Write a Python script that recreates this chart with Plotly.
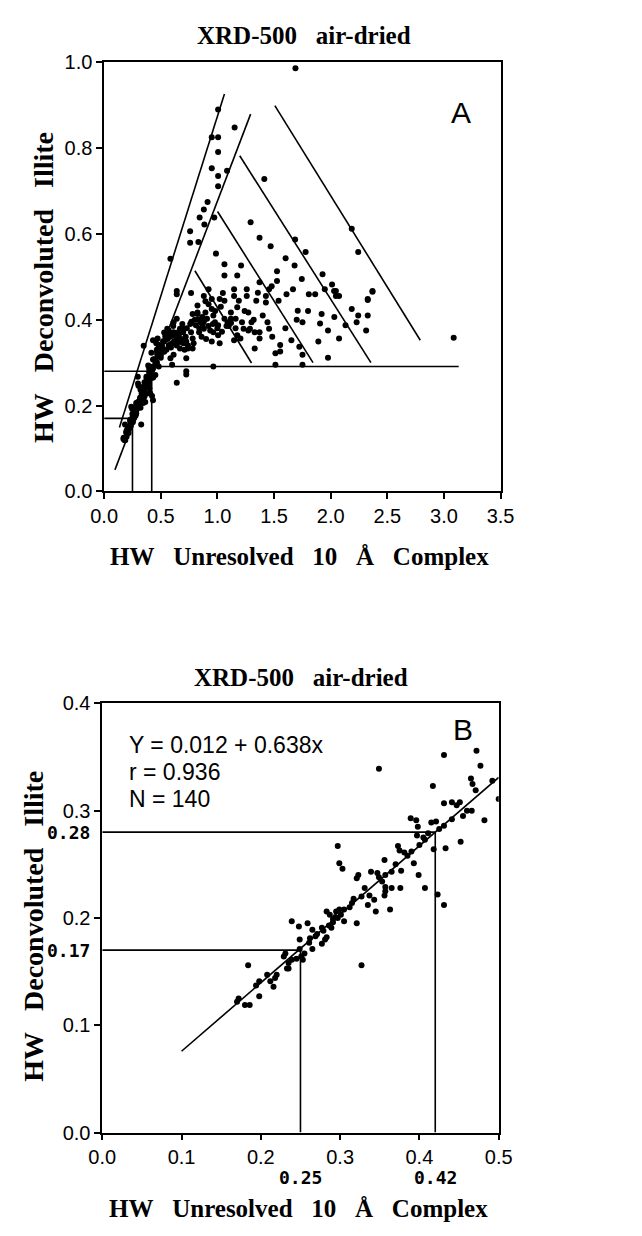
import plotly.graph_objects as go

# panel B: HW unresolved 10 A complex vs HW deconvoluted illite (zoomed cluster)
b_x = [0.349, 0.431, 0.472, 0.477, 0.492, 0.500, 0.417, 0.465, 0.467, 0.471, 0.431, 0.441,
       0.447, 0.451, 0.466, 0.482, 0.441, 0.431, 0.421, 0.415, 0.389, 0.396, 0.398, 0.411,
       0.407, 0.397, 0.418, 0.433, 0.452, 0.297, 0.299, 0.303, 0.373, 0.375, 0.381, 0.356,
       0.393, 0.377, 0.365, 0.357, 0.349, 0.347, 0.339, 0.399, 0.323, 0.321, 0.353, 0.357,
       0.357, 0.365, 0.376, 0.407, 0.423, 0.331, 0.317, 0.337,
       0.345, 0.363, 0.431, 0.335, 0.343, 0.327, 0.356, 0.283, 0.287, 0.291, 0.295, 0.299,
       0.305, 0.297, 0.291, 0.289, 0.305, 0.321, 0.239, 0.259, 0.248, 0.265, 0.271, 0.277,
       0.279, 0.281, 0.283, 0.277, 0.249, 0.261, 0.265, 0.255, 0.249, 0.251, 0.253, 0.245,
       0.239, 0.235, 0.231, 0.229, 0.233, 0.235, 0.327, 0.184, 0.220, 0.218, 0.212, 0.216,
       0.208, 0.198, 0.194, 0.198, 0.172, 0.170, 0.180, 0.186,
       0.262, 0.269, 0.286, 0.294, 0.301, 0.312, 0.315, 0.370, 0.385, 0.390, 0.400, 0.405,
       0.425, 0.455, 0.460]
b_y = [0.339, 0.352, 0.356, 0.342, 0.328, 0.311, 0.323, 0.330, 0.325, 0.319, 0.307, 0.308,
       0.305, 0.308, 0.300, 0.291, 0.292, 0.286, 0.290, 0.289, 0.293, 0.291, 0.285, 0.279,
       0.273, 0.277, 0.264, 0.265, 0.271, 0.267, 0.251, 0.246, 0.267, 0.263, 0.261, 0.254,
       0.251, 0.244, 0.243, 0.240, 0.238, 0.242, 0.243, 0.240, 0.240, 0.237, 0.234, 0.229,
       0.225, 0.228, 0.228, 0.228, 0.222, 0.228, 0.218, 0.221,
       0.206, 0.208, 0.212, 0.212, 0.217, 0.220, 0.221, 0.206, 0.203, 0.199, 0.206, 0.208,
       0.208, 0.200, 0.196, 0.191, 0.197, 0.195, 0.197, 0.195, 0.192, 0.189, 0.185, 0.191,
       0.188, 0.180, 0.182, 0.176, 0.180, 0.177, 0.171, 0.167, 0.171, 0.164, 0.161, 0.162,
       0.161, 0.158, 0.167, 0.164, 0.153, 0.153, 0.156, 0.156, 0.147, 0.144, 0.141, 0.136,
       0.147, 0.141, 0.137, 0.127, 0.125, 0.122, 0.119, 0.119,
       0.181, 0.183, 0.193, 0.201, 0.203, 0.210, 0.214, 0.250, 0.258, 0.262, 0.268, 0.275,
       0.283, 0.295, 0.300]

# panel A: the same samples plus the ones outside panel B's window
a_extra_x = [1.689, 1.006, 1.152, 0.950, 1.006, 1.006, 0.950, 1.006, 1.085, 1.006, 1.414, 0.913,
             0.880, 0.843, 0.885, 0.972, 0.759, 0.832, 0.759, 0.987, 1.293, 1.372, 1.470, 1.686,
             1.779, 2.186, 2.243, 0.585, 1.062, 1.209, 1.602, 1.681, 1.526, 1.526, 1.479, 1.062,
             1.175, 1.372, 1.745, 1.928, 2.012, 2.046, 2.074, 2.369, 2.327,
             0.641, 0.641, 0.767, 0.922, 0.880, 0.894, 0.922, 1.048, 1.062, 1.020, 1.147, 1.147,
             1.189, 1.175, 1.259, 1.259, 1.357, 1.343, 1.428, 1.428, 1.456, 1.540, 1.610, 1.667,
             1.709, 1.751, 1.653, 1.723, 1.751, 1.751, 1.554, 1.512, 1.512, 1.807, 1.863, 1.948,
             2.030, 2.046, 2.186, 2.243, 2.229, 2.131, 2.032, 1.920, 1.906, 1.891, 1.976, 2.074,
             1.976, 2.313, 2.327, 2.327, 2.369, 3.086,
             1.273, 1.301, 1.287, 1.329, 1.372, 1.372, 1.456, 1.484, 1.442, 1.329, 1.273, 1.554,
             1.231, 1.203, 1.175, 1.147, 1.217, 1.161, 1.119, 1.119, 1.090, 1.062,
             0.950, 0.950, 0.964, 0.978, 1.006, 0.964, 1.006, 0.950, 1.020, 0.894, 0.908, 0.866,
             0.852, 0.824, 0.824, 0.824, 0.781, 0.810, 0.767, 0.781, 0.781, 0.739, 0.725, 0.838,
             0.880, 0.936,
             0.613, 0.641, 0.669, 0.613, 0.557, 0.543, 0.529, 0.585, 0.641, 0.697, 0.725, 0.669,
             0.613, 0.585, 0.571, 0.515, 0.501, 0.600, 0.641, 0.725, 0.725, 0.964,
             0.52, 0.54, 0.56, 0.58, 0.60, 0.62, 0.64, 0.66, 0.68, 0.70, 0.72, 0.74, 0.55, 0.59,
             0.63, 0.67, 0.71, 0.76, 0.80, 0.84, 0.88, 0.92, 0.96, 1.00, 1.04, 1.08, 1.12, 1.16,
             1.24, 1.32, 1.40, 1.60, 1.70, 1.80,
             0.51, 0.53, 0.57, 0.61, 0.65, 0.69, 0.73, 0.77, 0.53, 0.57, 0.61, 0.65, 0.69, 0.86,
             0.90, 0.98, 1.03, 1.10, 0.79, 0.83, 0.87, 0.47, 0.49, 0.46]
a_extra_y = [0.986, 0.890, 0.848, 0.825, 0.825, 0.791, 0.753, 0.735, 0.747, 0.711, 0.728, 0.674,
             0.657, 0.638, 0.622, 0.638, 0.606, 0.581, 0.579, 0.554, 0.627, 0.591, 0.571, 0.587,
             0.558, 0.612, 0.558, 0.542, 0.529, 0.526, 0.543, 0.526, 0.513, 0.490, 0.478, 0.503,
             0.503, 0.487, 0.495, 0.506, 0.482, 0.467, 0.455, 0.465, 0.446,
             0.467, 0.459, 0.462, 0.471, 0.455, 0.443, 0.436, 0.462, 0.444, 0.448, 0.471, 0.455,
             0.444, 0.429, 0.471, 0.455, 0.463, 0.444, 0.455, 0.440, 0.471, 0.444, 0.459, 0.471,
             0.421, 0.394, 0.352, 0.337, 0.318, 0.295, 0.341, 0.322, 0.295, 0.459, 0.459, 0.471,
             0.467, 0.455, 0.425, 0.410, 0.394, 0.387, 0.406, 0.413, 0.391, 0.349, 0.375, 0.356,
             0.311, 0.375, 0.410, 0.448, 0.467, 0.358,
             0.417, 0.394, 0.379, 0.371, 0.371, 0.356, 0.379, 0.360, 0.394, 0.333, 0.375, 0.326,
             0.379, 0.356, 0.364, 0.352, 0.394, 0.402, 0.402, 0.417, 0.394, 0.402,
             0.448, 0.425, 0.410, 0.394, 0.387, 0.371, 0.364, 0.349, 0.345, 0.417, 0.402, 0.406,
             0.394, 0.413, 0.433, 0.417, 0.413, 0.387, 0.371, 0.356, 0.333, 0.333, 0.310, 0.371,
             0.379, 0.375,
             0.394, 0.402, 0.379, 0.371, 0.379, 0.364, 0.349, 0.360, 0.356, 0.371, 0.349, 0.333,
             0.318, 0.310, 0.341, 0.333, 0.318, 0.295, 0.253, 0.280, 0.272, 0.291,
             0.350, 0.360, 0.355, 0.365, 0.345, 0.350, 0.340, 0.365, 0.355, 0.345, 0.360, 0.340,
             0.330, 0.335, 0.362, 0.348, 0.330, 0.390, 0.400, 0.380, 0.395, 0.385, 0.390, 0.380,
             0.372, 0.385, 0.392, 0.380, 0.420, 0.400, 0.410, 0.380, 0.400, 0.420,
             0.340, 0.370, 0.375, 0.385, 0.370, 0.390, 0.380, 0.395, 0.325, 0.338, 0.345, 0.352,
             0.380, 0.360, 0.355, 0.420, 0.430, 0.385, 0.345, 0.400, 0.390, 0.320, 0.335, 0.345]

# guide lines, panel A: [x0, x1], [y0, y1]
a_guides = [
    ([0.135, 1.062], [0.149, 0.926]),
    ([0.095, 1.293], [0.050, 0.879]),
    ([1.507, 2.791], [0.899, 0.352]),
    ([1.197, 2.355], [0.782, 0.300]),
    ([1.001, 1.844], [0.652, 0.300]),
    ([0.801, 1.301], [0.514, 0.299]),
    ([0.42, 3.13], [0.291, 0.291]),
    ([0.0, 0.42], [0.28, 0.28]),
    ([0.42, 0.42], [0.0, 0.28]),
    ([0.0, 0.25], [0.17, 0.17]),
    ([0.25, 0.25], [0.0, 0.17]),
]
# guide lines, panel B
b_guides = [
    ([0.0, 0.42], [0.28, 0.28]),
    ([0.42, 0.42], [0.0, 0.28]),
    ([0.0, 0.25], [0.17, 0.17]),
    ([0.25, 0.25], [0.0, 0.17]),
]
fit_a, fit_b = 0.012, 0.638
fit_x = [0.1, 0.5]

a_ticks_x = [0, 0.5, 1.0, 1.5, 2.0, 2.5, 3.0, 3.5]
a_ticks_y = [0, 0.2, 0.4, 0.6, 0.8, 1.0]
b_ticks_x = [0, 0.1, 0.2, 0.3, 0.4, 0.5]
b_ticks_y = [0, 0.1, 0.2, 0.3, 0.4]

# page is 642x1236, browser body margin puts the figure at (8, 8)
OFF = 8
W, H = 642 - 2 * OFF, 1236 - 2 * OFF
SERIF = "Liberation Serif"
SANS = "Liberation Sans"
SP = "\u00a0\u00a0 "

fig = go.Figure()

a_x = b_x + a_extra_x
a_y = b_y + a_extra_y
line = dict(color="black", width=1.6)
mk = dict(color="black", size=6)

fig.add_trace(go.Scatter(x=a_x, y=a_y, mode="markers", marker=mk, xaxis="x", yaxis="y"))
for gx, gy in a_guides:
    fig.add_trace(go.Scatter(x=gx, y=gy, mode="lines", line=line, xaxis="x", yaxis="y"))

fig.add_trace(go.Scatter(x=b_x, y=b_y, mode="markers", marker=mk, xaxis="x2", yaxis="y2"))
for gx, gy in b_guides:
    fig.add_trace(go.Scatter(x=gx, y=gy, mode="lines", line=line, xaxis="x2", yaxis="y2"))
fig.add_trace(go.Scatter(x=fit_x, y=[fit_a + fit_b * v for v in fit_x], mode="lines",
                         line=line, xaxis="x2", yaxis="y2"))


def px_x(p):
    return (p - OFF) / W


def px_y(p):
    return 1 - (p - OFF) / H


def axis(rng, ticks, dom):
    return dict(range=rng, domain=dom, tickvals=ticks, ticktext=["%.1f" % t for t in ticks],
                showline=True, mirror=True, linecolor="black", linewidth=1.6,
                ticks="outside", ticklen=6, tickwidth=1.5, tickcolor="black",
                showgrid=False, zeroline=False, fixedrange=True,
                tickfont=dict(family=SANS, size=20, color="black"))


fig.update_layout(
    width=W, height=H, margin=dict(l=0, r=0, t=0, b=0),
    paper_bgcolor="white", plot_bgcolor="white", showlegend=False,
    xaxis=axis([0, 3.5], a_ticks_x, [px_x(94), px_x(509)]) | dict(anchor="y"),
    yaxis=axis([0, 1.0], a_ticks_y, [px_y(489), px_y(52)]) | dict(anchor="x"),
    xaxis2=axis([0, 0.5], b_ticks_x, [px_x(92), px_x(507)]) | dict(anchor="y2"),
    yaxis2=axis([0, 0.4], b_ticks_y, [px_y(1142), px_y(705)]) | dict(anchor="x2"),
)

title_font = dict(family=SERIF, size=25, color="black")
ytitle_font = dict(family=SERIF, size=28, color="black")
main_title = "<b>XRD-500" + SP + "air-dried</b>"
x_title = "<b>" + SP.join(["HW", "Unresolved", "10", "Å", "Complex"]) + "</b>"
y_title = "<b>" + SP.join(["HW", "Deconvoluted", "Illite"]) + "</b>"
notes = [
    (main_title, 303, 25, 0, title_font),
    (x_title, 299, 555, 0, title_font),
    (y_title, 30, 282, -90, ytitle_font),
    (main_title, 300, 679, 0, title_font),
    (x_title, 297, 1219, 0, title_font),
    (y_title, 20, 932, -90, ytitle_font),
    ("A", 468, 103, 0, dict(family=SANS, size=30, color="black")),
    ("B", 470, 732, 0, dict(family=SANS, size=30, color="black")),
]
for text, x, y, ang, f in notes:
    fig.add_annotation(text=text, x=px_x(x), y=px_y(y), xref="paper", yref="paper",
                       showarrow=False, textangle=ang, font=f, xanchor="center", yanchor="middle")

eq_font = dict(family=SANS, size=23, color="black")
for text, y in [("Y = 0.012 + 0.638x", 747), ("r = 0.936", 775), ("N = 140", 802)]:
    fig.add_annotation(text=text, x=px_x(118), y=px_y(y), xref="paper", yref="paper",
                       showarrow=False, font=eq_font, xanchor="left", yanchor="middle")

bold_font = dict(family="DejaVu Sans Mono", size=18, color="black")
for v in [0.28, 0.17]:
    fig.add_annotation(text="<b>%.2f</b>" % v, x=px_x(81), y=v, xref="paper", yref="y2",
                       showarrow=False, font=bold_font, xanchor="right", yanchor="middle")
for v in [0.25, 0.42]:
    fig.add_annotation(text="<b>%.2f</b>" % v, x=v, y=px_y(1188), xref="x2", yref="paper",
                       showarrow=False, font=bold_font, xanchor="center", yanchor="middle")

fig.write_html("out.html")
